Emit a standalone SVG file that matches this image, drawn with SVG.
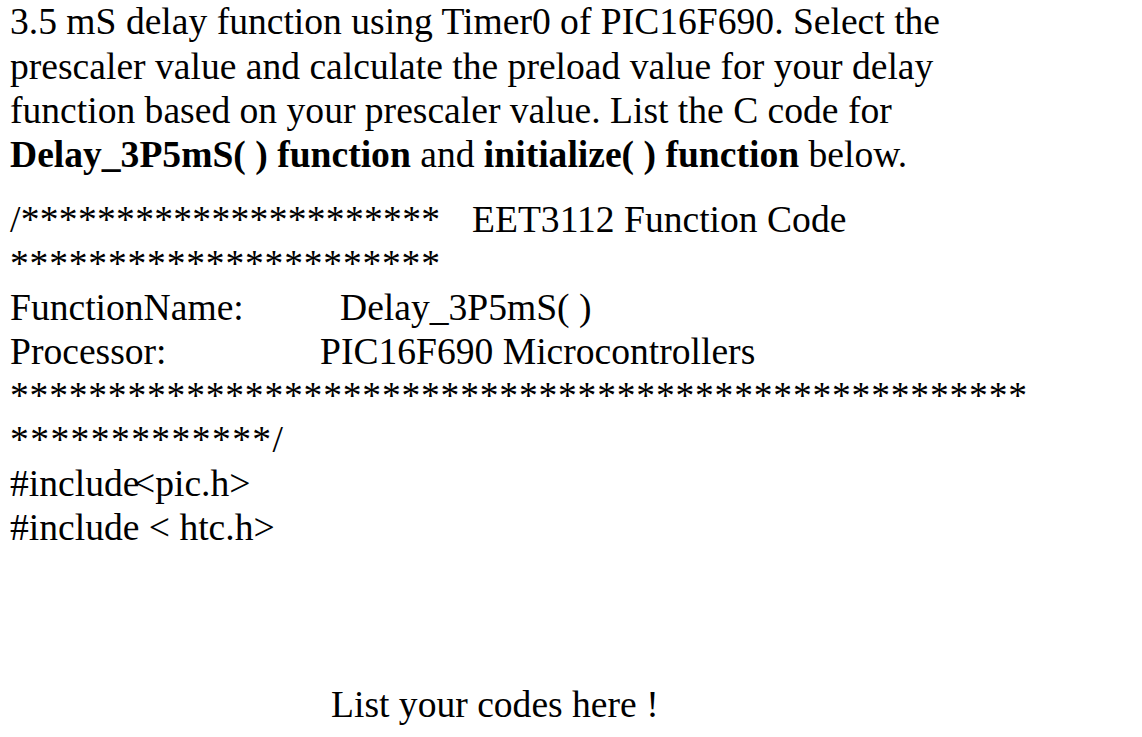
<svg xmlns="http://www.w3.org/2000/svg" width="1142" height="737" viewBox="0 0 1142 737">
<style>text{font-family:"Liberation Serif","Times New Roman",serif;font-size:37.6px;fill:#000}.b{font-weight:bold}</style>
<rect width="1142" height="737" fill="#fff"/>
<g id="text">
<text x="10" y="34">3.5 mS delay function using Timer0 of PIC16F690. Select the</text>
<text x="10" y="79">prescaler value and calculate the preload value for your delay</text>
<text x="10" y="123">function based on your prescaler value. List the C code for</text>
<text x="10" y="167"><tspan class="b">Delay_3P5mS( ) function</tspan> and <tspan class="b">initialize( ) function</tspan> below.</text>
<text x="10" y="232" textLength="430" lengthAdjust="spacing">/**********************</text>
<text x="472" y="232">EET3112 Function Code</text>
<text x="10" y="276" textLength="430" lengthAdjust="spacing">**********************</text>
<text x="10" y="320">FunctionName:</text>
<text x="340" y="320">Delay_3P5mS( )</text>
<text x="10" y="364">Processor:</text>
<text x="320" y="364">PIC16F690 Microcontrollers</text>
<text x="10" y="408" textLength="1017" lengthAdjust="spacing">****************************************************</text>
<text x="10" y="452" textLength="273" lengthAdjust="spacing">*************/</text>
<text x="10" y="496">#include</text>
<text x="134" y="496">&lt;pic.h&gt;</text>
<text x="10" y="540">#include &lt; htc.h&gt;</text>
<text x="331" y="717">List your codes here !</text>
</g>
</svg>
